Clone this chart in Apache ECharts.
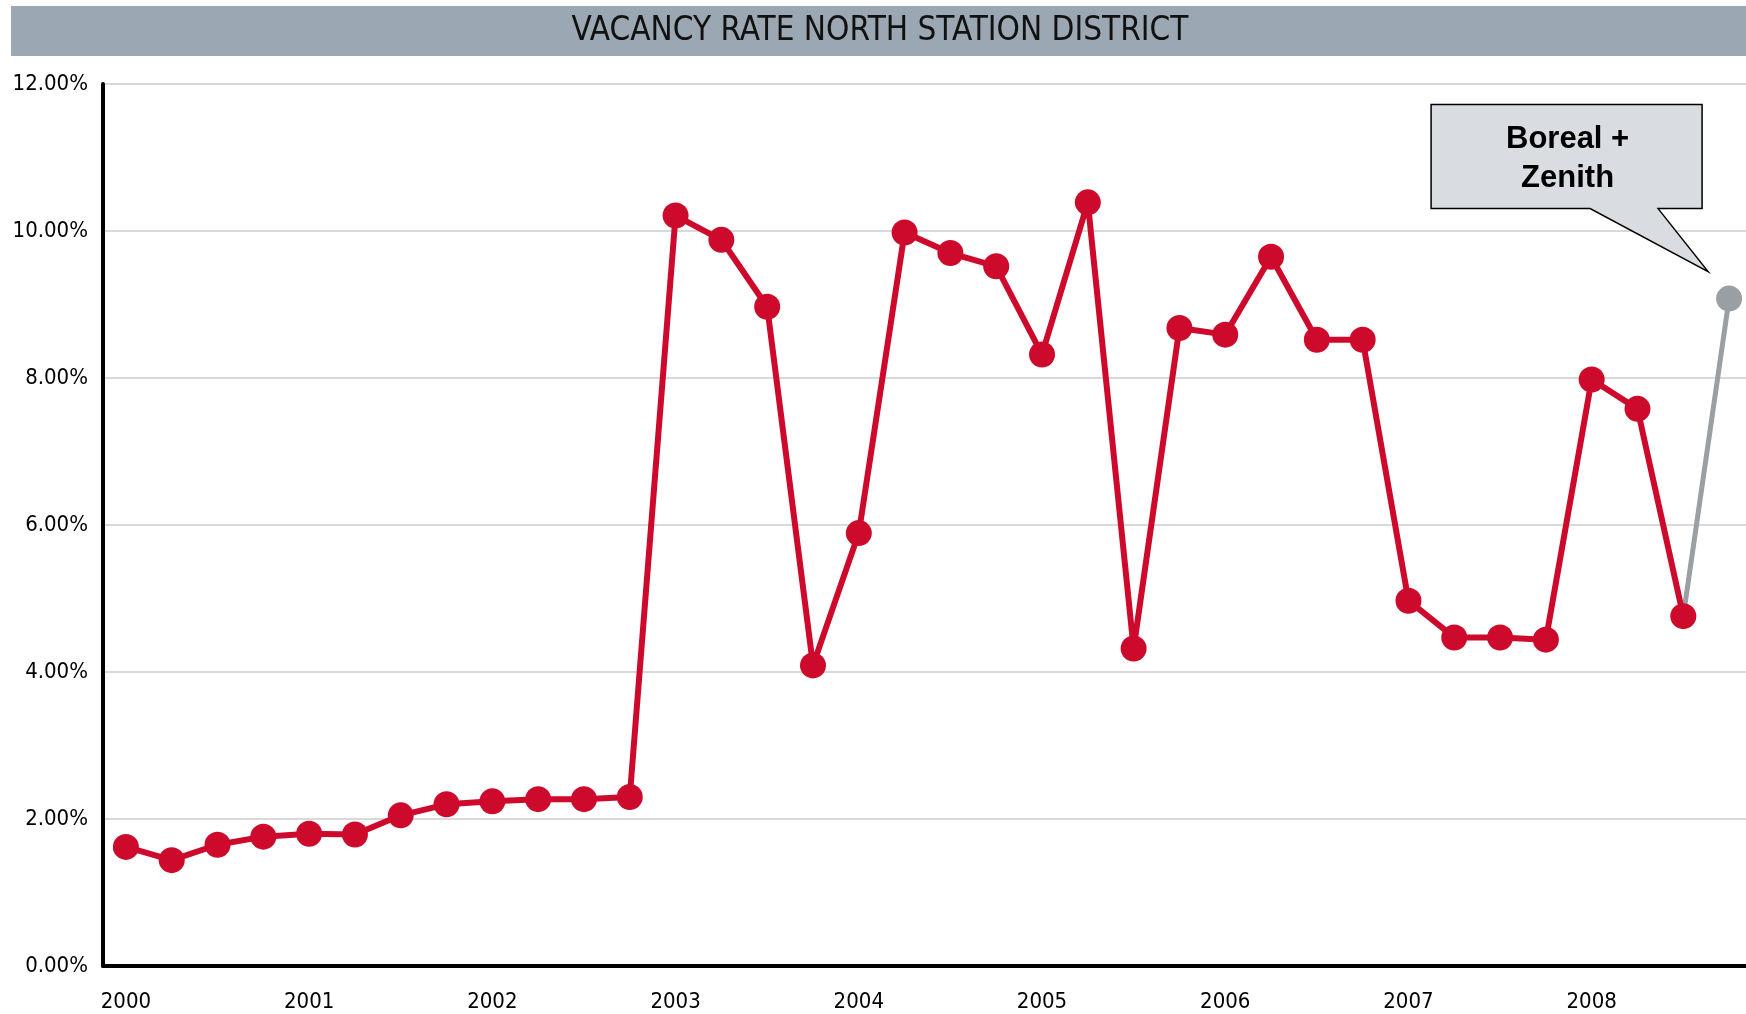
<!DOCTYPE html>
<html>
<head>
<meta charset="utf-8">
<script src="https://cdn.jsdelivr.net/npm/echarts@6/dist/echarts.min.js"></script>
<style>
html,body{margin:0;padding:0;background:#fff;overflow:hidden;}
#chart{width:1752px;height:1014px;}
</style>
</head>
<body>
<div id="chart"></div>
<script>
const titleText = 'VACANCY RATE NORTH STATION DISTRICT';
const quarters = [
  '2000 Q1','2000 Q2','2000 Q3','2000 Q4',
  '2001 Q1','2001 Q2','2001 Q3','2001 Q4',
  '2002 Q1','2002 Q2','2002 Q3','2002 Q4',
  '2003 Q1','2003 Q2','2003 Q3','2003 Q4',
  '2004 Q1','2004 Q2','2004 Q3','2004 Q4',
  '2005 Q1','2005 Q2','2005 Q3','2005 Q4',
  '2006 Q1','2006 Q2','2006 Q3','2006 Q4',
  '2007 Q1','2007 Q2','2007 Q3','2007 Q4',
  '2008 Q1','2008 Q2','2008 Q3','2008 Q4'
];
const vacancyRate = [
  1.62, 1.44, 1.65, 1.76,
  1.80, 1.79, 2.05, 2.20,
  2.24, 2.27, 2.27, 2.30,
  10.21, 9.88, 8.97, 4.09,
  5.89, 9.98, 9.70, 9.52,
  8.32, 10.39, 4.32, 8.68,
  8.59, 9.65, 8.52, 8.52,
  4.97, 4.47, 4.47, 4.44,
  7.98, 7.58, 4.76, null
];
const withBorealZenith = [
  null, null, null, null, null, null, null, null, null, null, null, null,
  null, null, null, null, null, null, null, null, null, null, null, null,
  null, null, null, null, null, null, null, null, null, null, 4.76, 9.08
];
const annotationText = 'Boreal +\nZenith';

const narrow = '"Liberation Sans Narrow", "Arial Narrow", "DejaVu Sans Condensed", "Liberation Sans", sans-serif';
const chart = echarts.init(document.getElementById('chart'), null, {renderer: 'canvas'});

const option = {
  animation: false,
  backgroundColor: '#ffffff',
  grid: {left: 103, right: 0, top: 84, bottom: 48, containLabel: false},
  xAxis: {
    type: 'category',
    data: quarters,
    boundaryGap: true,
    axisLine: {show: true, onZero: false, lineStyle: {color: '#000', width: 4}},
    axisTick: {show: false},
    axisLabel: {
      interval: 3,
      margin: 25,
      fontFamily: narrow,
      fontSize: 22,
      color: '#000',
      formatter: v => v.split(' ')[0]
    },
    splitLine: {show: false}
  },
  yAxis: {
    type: 'value',
    min: 0, max: 12, interval: 2,
    axisLine: {show: true, lineStyle: {color: '#000', width: 4}},
    axisTick: {show: false},
    axisLabel: {
      margin: 15,
      fontFamily: narrow,
      fontSize: 22,
      color: '#000',
      formatter: v => v.toFixed(2) + '%'
    },
    splitLine: {show: true, lineStyle: {color: '#d9d9d9', width: 2}}
  },
  series: [
    {
      name: 'Vacancy',
      type: 'line',
      data: vacancyRate,
      symbol: 'circle',
      symbolSize: 26,
      showAllSymbol: true,
      lineStyle: {color: '#CE0A2C', width: 6},
      itemStyle: {color: '#CE0A2C'},
      z: 3
    },
    {
      name: 'Boreal + Zenith',
      type: 'line',
      data: withBorealZenith.map((v, i) =>
        (i === withBorealZenith.length - 1 || v === null) ? v : {value: v, symbolSize: 0}
      ),
      symbol: 'circle',
      symbolSize: 26,
      showAllSymbol: true,
      lineStyle: {color: '#9A9FA3', width: 5},
      itemStyle: {color: '#9A9FA3'},
      z: 2
    }
  ]
};
chart.setOption(option);

// Title bar and callout annotation
const last = withBorealZenith.length - 1;
const p = chart.convertToPixel({xAxisIndex: 0, yAxisIndex: 0}, [last, withBorealZenith[last]]);
const bx0 = p[0] - 298, bx1 = p[0] - 27, by0 = p[1] - 194, by1 = p[1] - 90;
const tip = [p[0] - 21, p[1] - 27];
chart.setOption({
  graphic: [
    {
      type: 'rect',
      shape: {x: 11, y: 6, width: 1741, height: 50},
      style: {fill: '#9BA7B2'},
      z: 10
    },
    {
      type: 'text',
      x: 880, y: 31,
      style: {
        text: titleText,
        fontFamily: narrow,
        fontSize: 33,
        fill: '#111',
        align: 'center',
        verticalAlign: 'middle'
      },
      z: 11
    },
    {
      type: 'polygon',
      shape: {points: [
        [bx0, by0], [bx1, by0], [bx1, by1], [bx1 - 44, by1], tip, [bx0 + 159, by1], [bx0, by1]
      ]},
      style: {fill: '#D9DDE1', stroke: '#000', lineWidth: 1.5},
      z: 10
    },
    {
      type: 'text',
      x: (bx0 + bx1) / 2 + 1, y: (by0 + by1) / 2 + 2,
      style: {
        text: annotationText,
        fontFamily: '"Liberation Sans", Arial, sans-serif',
        fontWeight: 'bold',
        fontSize: 31,
        lineHeight: 39,
        fill: '#000',
        align: 'center',
        verticalAlign: 'middle'
      },
      z: 11
    }
  ]
});
</script>
</body>
</html>
